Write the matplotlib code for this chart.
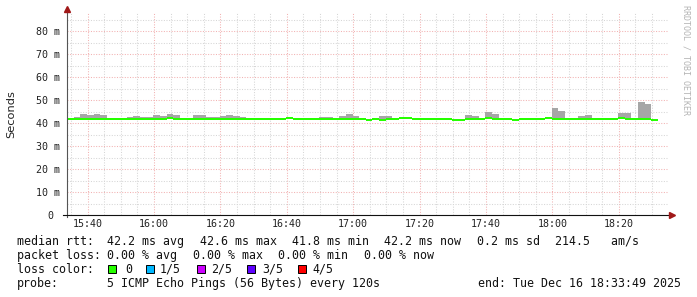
import numpy as np
import matplotlib
matplotlib.use("Agg")
import matplotlib.pyplot as plt
from matplotlib.patches import Rectangle

# 2 minute steps, window 15:33:49 .. 18:33:49
start_hms = (15, 33, 49)
step_min = 2

median_ms = [
    42.2, 42.2, 42.2, 42.2, 42.2, 42.2, 42.2, 42.2, 42.2, 42.2,
    42.2, 42.2, 42.2, 42.2, 42.2, 42.6, 42.2, 42.2, 42.2, 42.2,
    42.2, 42.2, 42.2, 42.2, 42.2, 42.2, 42.2, 42.2, 42.2, 42.2,
    42.2, 42.2, 42.2, 42.6, 42.2, 42.2, 42.2, 42.2, 42.2, 42.2,
    42.2, 42.2, 42.2, 42.2, 42.2, 41.8, 42.2, 41.8, 42.2, 42.2,
    42.6, 42.6, 42.2, 42.2, 42.2, 42.2, 42.2, 42.2, 41.8, 41.8,
    42.2, 42.2, 42.2, 42.6, 42.2, 42.2, 42.2, 41.8, 42.2, 42.2,
    42.2, 42.2, 42.6, 42.2, 42.2, 42.2, 42.2, 42.2, 42.2, 42.2,
    42.2, 42.2, 42.2, 42.6, 42.2, 42.2, 42.2, 42.2, 41.8,
]
smoke_low_ms = [
    42.0, 42.0, 42.0, 42.0, 42.0, 42.0, 42.0, 42.0, 42.0, 42.0,
    42.0, 42.0, 42.0, 42.0, 42.0, 42.3, 41.4, 42.0, 42.0, 42.0,
    42.0, 42.0, 42.0, 42.0, 42.0, 42.0, 42.0, 42.0, 42.0, 42.0,
    42.0, 42.0, 42.0, 42.3, 42.0, 42.0, 42.0, 42.0, 42.0, 42.0,
    42.0, 42.0, 42.0, 42.0, 42.0, 41.6, 42.0, 41.6, 42.0, 42.0,
    42.3, 42.3, 42.0, 42.0, 42.0, 42.0, 42.0, 42.0, 41.6, 41.6,
    42.0, 42.0, 42.0, 42.3, 42.0, 42.0, 42.0, 41.6, 42.0, 42.0,
    42.0, 42.0, 42.3, 42.0, 42.0, 42.0, 42.0, 42.0, 42.0, 42.0,
    42.0, 42.0, 42.0, 42.3, 42.0, 42.0, 42.0, 42.0, 41.6,
]
smoke_high_ms = [
    42.2, 42.6, 43.9, 43.5, 43.9, 43.5, 42.2, 42.2, 42.2, 42.6,
    43.0, 42.6, 42.6, 43.5, 43.0, 43.9, 43.5, 42.2, 42.2, 43.5,
    43.5, 42.6, 42.6, 43.0, 43.5, 43.0, 42.6, 42.2, 42.2, 42.2,
    42.2, 42.2, 42.2, 42.6, 42.2, 42.2, 42.2, 42.2, 42.6, 42.6,
    42.2, 43.0, 43.9, 43.0, 42.2, 41.8, 42.2, 43.0, 43.0, 42.2,
    42.8, 42.6, 42.2, 42.2, 42.2, 42.2, 42.2, 42.2, 41.8, 41.8,
    43.5, 43.0, 42.2, 44.8, 43.9, 42.2, 42.2, 41.8, 42.2, 42.2,
    42.2, 42.2, 42.6, 46.5, 45.2, 42.2, 42.2, 43.0, 43.5, 42.2,
    42.2, 42.2, 42.2, 44.3, 44.3, 42.2, 49.1, 48.3, 41.8,
]

ytick_vals = [0, 10, 20, 30, 40, 50, 60, 70, 80]
ytick_labels = ["0 ", "10 m", "20 m", "30 m", "40 m", "50 m", "60 m", "70 m", "80 m"]
xtick_labels = ["15:40", "16:00", "16:20", "16:40", "17:00", "17:20", "17:40", "18:00", "18:20"]

loss_labels = ["0", "1/5", "2/5", "3/5", "4/5"]
loss_colors = ["#26ff00", "#00b8ff", "#cc00ff", "#5e00ff", "#ff0000"]

W, H = 697, 297


def fx(x):
    return x / W


def fy(y):
    return 1 - y / H


def to_min(hh, mm, ss=0):
    return (hh * 60 + mm + ss / 60) - (start_hms[0] * 60 + start_hms[1] + start_hms[2] / 60)


mono = "DejaVu Sans Mono"

fig = plt.figure(figsize=(W / 100, H / 100), dpi=100)
fig.patch.set_facecolor("white")
ax = fig.add_axes([fx(67), fy(215), (669 - 67) / W, (215 - 13) / H])
ax.set_xlim(0, (669 - 67) / 3.32)
ax.set_ylim(0, (215 - 13) / 2.3)
for s in ax.spines.values():
    s.set_visible(False)

# grid
xt = [to_min(int(t[:2]), int(t[3:])) for t in xtick_labels]
ax.set_xticks(xt)
ax.set_xticklabels(xtick_labels, family=mono, fontsize=7.2)
ax.set_xticks(np.arange(to_min(15, 35), to_min(18, 31), 5), minor=True)
ax.set_yticks(ytick_vals)
ax.set_yticklabels(ytick_labels, family=mono, fontsize=7.2)
ax.set_yticks(np.arange(5, 86, 10), minor=True)
ax.grid(which="minor", color="#d6d6d6", linestyle=(0, (1, 1.5)), linewidth=0.75)
ax.grid(which="major", color="#f2b2b2", linestyle=(0, (1, 1.5)), linewidth=0.75)
ax.tick_params(which="both", length=0, colors="#222222")
ax.tick_params(axis="y", pad=5)
ax.tick_params(axis="x", pad=3)
ax.set_axisbelow(True)

# smoke and median
edges = np.arange(len(median_ms) + 1) * step_min
ax.stairs(smoke_high_ms, edges, baseline=smoke_low_ms, fill=True, color="#a6a6a6", lw=0)
med = np.array(median_ms)
ax.stairs(med + 0.1, edges, baseline=med - 1.0, fill=True, color=loss_colors[0], lw=0)

# axis lines with arrows
ytop = (215 - 13) / 2.3
ax.plot([0, 0], [-1, ytop + 1.5], color="#555555", lw=0.8, clip_on=False)
ax.plot([-1.2, 182], [0, 0], color="#111111", lw=0.8, clip_on=False)
ax.plot(0, ytop + 1.8, marker="^", ms=4, color="#a01818", clip_on=False)
ax.plot(182.2, 0, marker=">", ms=4, color="#a01818", clip_on=False)

fig.text(fx(11), fy(114), "Seconds", rotation=90, ha="center", va="center",
         fontsize=8.2, family="DejaVu Sans", color="#222222")
fig.text(fx(686), fy(60), "RRDTOOL / TOBI OETIKER", rotation=270, ha="center", va="center",
         fontsize=6, family=mono, color="#b4b4b4")

# legend
fs = 8.35
rows = [
    (245, [(16.7, "median rtt:"), (107.3, "42.2 ms avg"), (199.7, "42.6 ms max"),
           (292.0, "41.8 ms min"), (384.4, "42.2 ms now"), (476.8, "0.2 ms sd"),
           (555.3, "214.5   am/s")]),
    (259, [(16.7, "packet loss:"), (107.3, "0.00 % avg"), (192.7, "0.00 % max"),
           (278.1, "0.00 % min"), (363.5, "0.00 % now")]),
    (273, [(16.7, "loss color:")]),
    (287, [(16.7, "probe:"), (107.3, "5 ICMP Echo Pings (56 Bytes) every 120s")]),
]
for y, items in rows:
    for x, s in items:
        fig.text(fx(x), fy(y), s, ha="left", va="baseline", fontsize=fs, family=mono, color="#111111")
fig.text(fx(680.5), fy(287), "end: Tue Dec 16 18:33:49 2025", ha="right", va="baseline",
         fontsize=fs, family=mono, color="#111111")

box_x = [108, 145.7, 196.7, 247.3, 297.7]
lab_x = [125, 160, 211, 262.3, 312.3]
for bx, lx, lab, c in zip(box_x, lab_x, loss_labels, loss_colors):
    fig.add_artist(Rectangle((fx(bx), fy(272.5)), 8 / W, 8 / H, transform=fig.transFigure,
                             facecolor=c, edgecolor="black", lw=0.7))
    fig.text(fx(lx), fy(273), lab, ha="left", va="baseline", fontsize=fs, family=mono, color="#111111")

fig.savefig("out.png", dpi=100)
